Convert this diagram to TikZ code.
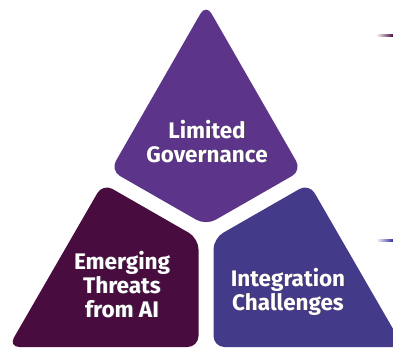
\documentclass[tikz,border=0pt]{standalone}
\usepackage{fontspec}
\setmainfont{Fira Sans}
\usetikzlibrary{calc}

\definecolor{govpurple}{RGB}{92,52,137}
\definecolor{threatplum}{RGB}{72,13,62}
\definecolor{integindigo}{RGB}{67,58,138}
\definecolor{textshade}{RGB}{30,10,40}

% text with a faint drop shadow
\newcommand\shadowline[1]{\makebox[0pt][l]{\hspace{0.9pt}\raisebox{-0.9pt}{\textcolor{textshade!80}{#1}}}#1}

\tikzset{
  segment/.style={rounded corners=11pt},
  segtext/.style={text=white, font=\fontsize{22.5}{24}\selectfont\bfseries, align=center, inner sep=0pt}
}

\begin{document}
\begin{tikzpicture}[x=1pt,y=-1pt]
  \useasboundingbox (0,0) rectangle (393,349);
  \clip (0,0) rectangle (393,349);

  % top segment
  \fill[govpurple, segment] (206,4) -- (301.6,170.5) -- (206,225.3) -- (110.4,170.5) -- cycle;
  % lower left segment
  \fill[threatplum, segment] (102.9,183.5) -- (198.5,238.3) -- (198.5,347) -- (8.5,347) -- cycle;
  % lower right segment
  \fill[integindigo, segment] (309.1,183.5) -- (403.5,347) -- (213.5,347) -- (213.5,238.3) -- cycle;

  % short leader stubs at the right edge
  \shade[left color=white, right color=threatplum] (376,34.6) rectangle (393,36.6);
  \shade[left color=white, right color=integindigo!80!blue] (376,239.6) rectangle (393,241.6);

  \node[segtext, anchor=base] (gov) at (207,162) {\shadowline{Limited}\\\shadowline{Governance}};
  \node[segtext, anchor=base] (threat) at (122,317) {\shadowline{Emerging}\\\shadowline{Threats}\\\shadowline{from AI}};
  \node[segtext, anchor=base] (integ) at (288,310) {\shadowline{Integration}\\\shadowline{Challenges}};
\end{tikzpicture}
\end{document}
